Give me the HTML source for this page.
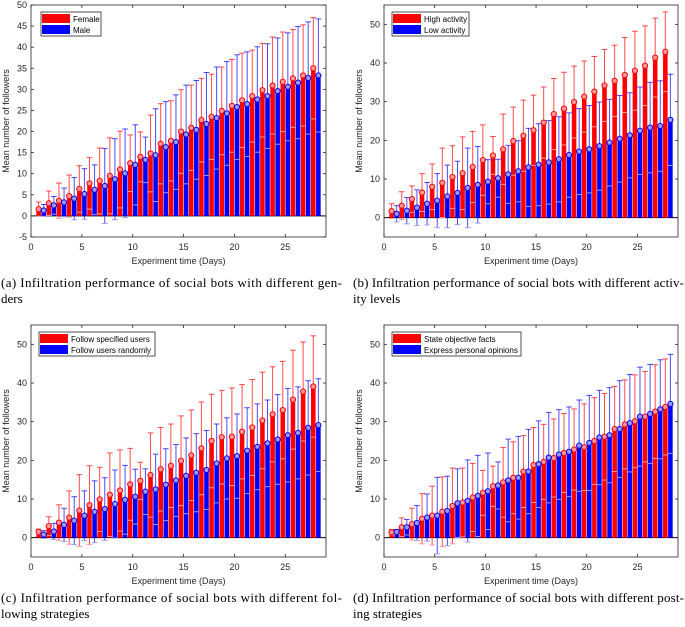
<!DOCTYPE html>
<html><head><meta charset="utf-8">
<style>
html,body{margin:0;padding:0;background:#fff;}
svg{display:block;}
.tk{font-family:"Liberation Sans",sans-serif;font-size:9px;fill:#262626;}
.lg{font-family:"Liberation Sans",sans-serif;font-size:8px;fill:#000;}
.cap{font-family:"Liberation Serif",serif;font-size:13px;fill:#000;}
</style></head>
<body>
<svg id="chart" width="685" height="627" viewBox="0 0 685 627" xmlns="http://www.w3.org/2000/svg"></svg>
<script>
const days = [1,2,3,4,5,6,7,8,9,10,11,12,13,14,15,16,17,18,19,20,21,22,23,24,25,26,27,28];
// Panel a
const femaleMean = [1.6,3.0,3.6,4.7,6.4,7.7,8.3,9.5,11,12.5,14,14.8,17.1,17.8,20,20.9,22.7,23.5,24.9,26.1,27.4,28.4,29.8,30.9,31.8,32.6,33.3,35];
const femaleUpper = [3.3,5.9,7.8,9.7,11.9,13.8,16.1,18.5,20.1,19.2,19.9,23.9,26.6,27.3,29.9,31,32.6,33.6,35.3,37.1,38.6,39.3,40.9,42.4,43.6,44.2,45.3,47];
const maleMean = [1.3,2.5,3.2,4.1,5.2,6.2,7.1,8.7,10.1,12.1,13.3,14.4,16.3,17.5,19.3,20.4,21.8,23.2,24.3,25.8,26.5,27.6,28.4,29.6,30.6,31.6,32.7,33.3];
const maleUpper = [2.7,4.6,6.6,9.1,11.2,12.1,16,18.3,20.6,21.6,18.7,25.4,27.1,28.7,31,32.1,34,35.3,36.6,38.2,38.9,40.1,40.8,42.2,43.4,44.9,46,46.7];
// Panel b
const highMean = [1.7,3.1,4.8,6.5,8,9,10.5,11.5,13.1,14.9,16.1,17.7,19.8,21.2,22.6,24.6,26.8,28.2,29.9,31.3,32.6,34.2,35.4,36.9,38,39.3,41.4,42.9];
const highUpper = [3.6,6.7,8.2,11.4,13.9,18,18.6,20.9,22.3,24,21,26.8,28.6,30.4,31.7,33.8,36,37.6,39.2,40.5,41.7,43.5,44.6,46.6,48.2,49.6,51.6,53.2];
const lowMean = [1,1.8,2.6,3.6,4.4,5.5,6.4,7.7,8.5,9.3,10.2,11.2,12,13,13.7,14.3,15.1,16.2,17.1,17.7,18.5,19.4,20.4,21.3,22.5,23.3,23.7,25.3];
const lowUpper = [3.1,5.2,7.2,9.1,11.4,13.6,14.6,18,18.4,15,15.1,18.7,19.9,23.1,24.3,25.1,26.1,27.1,28.2,29,29.9,30.6,31.6,32.3,33.8,35,35.4,37.1];
// Panel c
const specMean = [1.5,3,3.9,5.2,7,8.4,9.9,11.1,12.2,13.8,14.7,16.2,17.7,18.6,19.9,21.3,23.1,25,26,26.1,27.4,28.5,30.3,31.9,33,35.7,37.8,39.1];
const specUpper = [2.2,5.4,8.5,12.1,16.3,18.6,18.2,21.9,22.7,23.1,19.5,27.1,28.5,29.4,31.5,33,35.1,37.1,38.1,38.7,39.6,40.9,42.8,44.2,45.6,48.5,50.6,52.2];
const randMean = [0.8,1.6,3.3,4.4,5.7,6.7,7.4,8.7,9.8,10.6,11.9,12.5,13.7,14.8,16,16.8,17.5,19.2,20.5,21.1,22.5,23.5,24.4,25.4,26.5,27.1,28.4,29.1];
const randUpper = [1.8,3.7,7.6,10.6,12.1,14.7,15.5,17.5,18.7,17.7,17.8,21.6,23,24.1,25.8,26.9,27.7,29.4,31,32,33.6,34.6,35.6,37,38.6,39,40.6,41.1];
// Panel d
const stateMean = [1.4,2.7,3.5,4.9,5.7,6.7,8.2,9.1,10.4,11.6,13.3,14.3,15.5,17.1,18.8,19.6,20.6,21.9,22.8,23.4,25,26.1,28.1,29.3,30.1,31.3,32.6,33.8];
const stateUpper = [2.1,5.1,7.6,11.4,13.3,15.7,18,18,19.2,17.4,18.5,23.3,24.8,26.4,28.5,29.3,30.7,32.1,33.3,34.6,36.2,37.3,39.1,40.8,42.1,43,44.7,46.2];
const opinMean = [1.5,2.7,3.8,5.2,5.7,6.9,8.9,9.5,10.8,12,13.5,14.8,15.5,17.1,19,20.7,21.5,22.2,23.8,24.5,25.9,26.5,28.1,29.6,31.3,32,33.2,34.6];
const opinUpper = [2.1,4.7,8.3,11.3,15.6,15.9,17.8,20.1,21.3,21.9,19.6,25.5,26.2,28,30.2,32.4,33.1,33.8,35.6,36.8,38.1,38.8,40.6,42.2,44.1,44.8,46,47.4];

const xTicks = [0,5,10,15,20,25];
const yTicksA = [-5,0,5,10,15,20,25,30,35,40,45,50];
const yTicksB = [0,10,20,30,40,50];

const NS = "http://www.w3.org/2000/svg";
const svg = document.getElementById('chart');
function mk(tag, attrs, parent){
  const e = document.createElementNS(NS, tag);
  for (const k in attrs) e.setAttribute(k, attrs[k]);
  (parent||svg).appendChild(e);
  return e;
}

function panel(cfg){
  const g = mk('g', {});
  
  
  const {L,R,T,B,ymin,ymax} = cfg;
  const xs = v => L + (v-0)/(29-0)*(R-L);
  const ys = v => B - (v-ymin)/(ymax-ymin)*(B-T);
  const uw = (R-L)/29;
  const series = [
    {mean: cfg.m1, up: cfg.u1, off: -0.25, col: '#ff0000', light: '#ff9a9a', nm: 'red'},
    {mean: cfg.m2, up: cfg.u2, off: 0.25, col: '#0000ff', light: '#9a9aff', nm: 'blue'}
  ];
  const zl = mk('line', {x1:L, x2:R, y1:ys(0), y2:ys(0), stroke:'#000', 'stroke-width':1}, g);
  
  
  series.forEach((s) => {
    days.forEach((d, i) => {
      const cx = xs(d + s.off);
      const m = s.mean[i];
      const bw = 0.45*uw;
      const bar = mk('rect', {x: cx-bw/2, y: Math.min(ys(m), ys(0)), width: bw, height: Math.abs(ys(0)-ys(m)), fill: s.col}, g);
      
      
    });
  });
  series.forEach((s) => {
    days.forEach((d, i) => {
      const cx = xs(d + s.off);
      const m = s.mean[i], u = s.up[i], lo = 2*m - u;
      const cw = 0.28*uw;
      const eg = mk('g', {'stroke-width': 1, fill:'none'}, g);
      
      
      mk('line', {x1:cx, x2:cx, y1:ys(lo), y2:ys(u), stroke: s.col, 'stroke-opacity':0.7}, eg);
      mk('line', {x1:cx-cw, x2:cx+cw, y1:ys(u), y2:ys(u), stroke: s.col, 'stroke-opacity':0.7}, eg);
      mk('line', {x1:cx-cw, x2:cx+cw, y1:ys(lo), y2:ys(lo), stroke: s.light}, eg);
      const c = mk('circle', {cx:cx, cy:ys(m), r:2.6, fill: s.light, stroke: s.col, 'stroke-width':1}, g);
      
      
    });
  });
  const box = mk('rect', {x:L, y:T, width:R-L, height:B-T, fill:'none', stroke:'#262626', 'stroke-width':0.8}, g);
  
  
  xTicks.forEach(t => {
    const x = xs(t);
    mk('line', {x1:x, x2:x, y1:B, y2:B-3, stroke:'#262626', 'stroke-width':0.8}, g);
    mk('line', {x1:x, x2:x, y1:T, y2:T+3, stroke:'#262626', 'stroke-width':0.8}, g);
    const tx = mk('text', {x:x, y:B+13, 'text-anchor':'middle', class:'tk'}, g);
    tx.textContent = t;
    
    
  });
  cfg.yt.forEach(t => {
    const y = ys(t);
    mk('line', {x1:L, x2:L+3, y1:y, y2:y, stroke:'#262626', 'stroke-width':0.8}, g);
    mk('line', {x1:R, x2:R-3, y1:y, y2:y, stroke:'#262626', 'stroke-width':0.8}, g);
    const tx = mk('text', {x:L-4, y:y+3, 'text-anchor':'end', class:'tk'}, g);
    tx.textContent = t;
    
    
  });
  const xt = mk('text', {x:(L+R)/2, y:B+27, 'text-anchor':'middle', class:'tk', 'font-size':'9.5px'}, g);
  xt.textContent = 'Experiment time (Days)';
  
  
  const yx = L-22, yy = (T+B)/2;
  const yt = mk('text', {x:yx, y:yy, 'text-anchor':'middle', class:'tk', 'font-size':'9.5px', transform:'rotate(-90 '+yx+' '+yy+')'}, g);
  yt.textContent = 'Mean number of followers';
  
  
  const lg = mk('g', {}, g);
  
  
  mk('rect', {x:cfg.lx, y:cfg.ly, width:cfg.lw, height:24, fill:'#fff', stroke:'#262626', 'stroke-width':0.8}, lg);
  [[cfg.n1,'#ff0000'],[cfg.n2,'#0000ff']].forEach((e, k) => {
    const ey = cfg.ly + 2 + k*11;
    const en = mk('g', {}, lg);
    
    
    mk('rect', {x:cfg.lx+1, y:ey, width:28, height:9, fill:e[1]}, en);
    const t = mk('text', {x:cfg.lx+32, y:ey+8, class:'lg'}, en);
    t.textContent = e[0];
  });
  const c1 = mk('text', {x:cfg.cx, y:cfg.cy, class:'cap', textLength:cfg.cl, lengthAdjust:'spacing'}, g);
  c1.textContent = cfg.c1;
  
  
  const c2 = mk('text', {x:cfg.cx, y:cfg.cy+16, class:'cap'}, g);
  c2.textContent = cfg.c2;
  
  
}

panel({name:'panel-a', L:31, R:326, T:5, B:237, ymin:-5, ymax:50, yt:yTicksA,
  m1:femaleMean, u1:femaleUpper, m2:maleMean, u2:maleUpper, n1:'Female', n2:'Male',
  lx:41, ly:12, lw:60, cx:1, cy:287, cl:341,
  c1:'(a)  Infiltration performance of social bots with different gen-', c2:'ders'});
panel({name:'panel-b', L:384, R:678, T:5, B:237, ymin:-5, ymax:55, yt:yTicksB,
  m1:highMean, u1:highUpper, m2:lowMean, u2:lowUpper, n1:'High activity', n2:'Low activity',
  lx:392, ly:12, lw:77, cx:353, cy:287, cl:331,
  c1:'(b)  Infiltration performance of social bots with different activ-', c2:'ity levels'});
panel({name:'panel-c', L:31, R:326, T:325, B:557, ymin:-5, ymax:55, yt:yTicksB,
  m1:specMean, u1:specUpper, m2:randMean, u2:randUpper, n1:'Follow specified users', n2:'Follow users randomly',
  lx:39, ly:332, lw:116, cx:1, cy:602, cl:341,
  c1:'(c)  Infiltration performance of social bots with different fol-', c2:'lowing strategies'});
panel({name:'panel-d', L:384, R:678, T:325, B:557, ymin:-5, ymax:55, yt:yTicksB,
  m1:stateMean, u1:stateUpper, m2:opinMean, u2:opinUpper, n1:'State objective facts', n2:'Express personal opinions',
  lx:392, ly:332, lw:129, cx:353, cy:602, cl:331,
  c1:'(d)  Infiltration performance of social bots with different post-', c2:'ing strategies'});
</script>
</body></html>
